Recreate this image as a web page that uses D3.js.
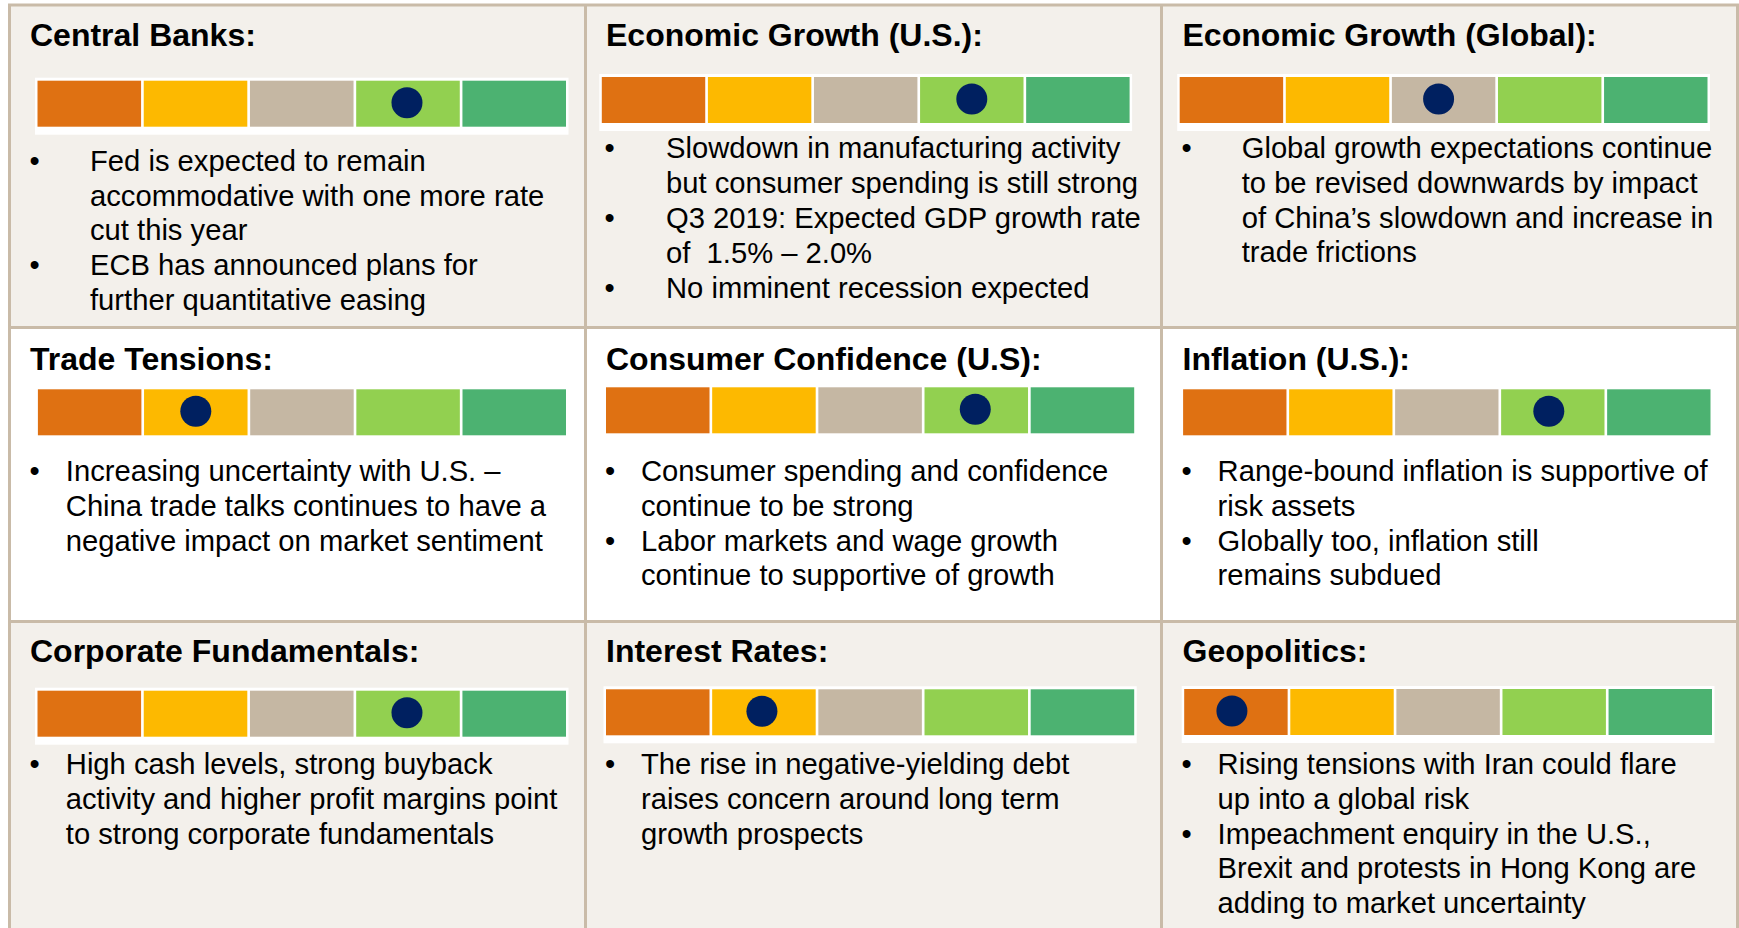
<!DOCTYPE html>
<html>
<head>
<meta charset="utf-8">
<script src="https://cdn.jsdelivr.net/npm/d3@7"></script>
<style>
  body { margin: 0; background: #ffffff; }
  svg { display: block; }
  text { font-family: "Liberation Sans", Arial, sans-serif; fill: #000; white-space: pre; }
  .title { font-size: 32px; font-weight: bold; }
  .body { font-size: 29.2px; }
</style>
</head>
<body>
<div class="container"></div>
<script>
var width = 1739;
var height = 928;

// ---- data ----
var titles = [
    "Central Banks:", "Economic Growth (U.S.):", "Economic Growth (Global):",
    "Trade Tensions:", "Consumer Confidence (U.S):", "Inflation (U.S.):",
    "Corporate Fundamentals:", "Interest Rates:", "Geopolitics:"
];

// position of the dot on the 5 step scale (1 = most negative, 5 = most positive)
var scores = [4, 4, 3, 2, 4, 4, 4, 2, 1];

var levels = [1, 2, 3, 4, 5];
var levelColors = ["#df7112", "#fdb900", "#c5b7a3", "#92d050", "#4cb271"];

var bullets = [
    [["Fed is expected to remain", "accommodative with one more rate", "cut this year"],
     ["ECB has announced plans for", "further quantitative easing"]],
    [["Slowdown in manufacturing activity", "but consumer spending is still strong"],
     ["Q3 2019: Expected GDP growth rate", "of  1.5% \u2013 2.0%"],
     ["No imminent recession expected"]],
    [["Global growth expectations continue", "to be revised downwards by impact",
      "of China\u2019s slowdown and increase in", "trade frictions"]],
    [["Increasing uncertainty with U.S. \u2013", "China trade talks continues to have a",
      "negative impact on market sentiment"]],
    [["Consumer spending and confidence", "continue to be strong"],
     ["Labor markets and wage growth", "continue to supportive of growth"]],
    [["Range-bound inflation is supportive of", "risk assets"],
     ["Globally too, inflation still", "remains subdued"]],
    [["High cash levels, strong buyback", "activity and higher profit margins point",
      "to strong corporate fundamentals"]],
    [["The rise in negative-yielding debt", "raises concern around long term",
      "growth prospects"]],
    [["Rising tensions with Iran could flare", "up into a global risk"],
     ["Impeachment enquiry in the U.S.,", "Brexit and protests in Hong Kong are",
      "adding to market uncertainty"]]
];

// ---- layout ----
var colEdges = [9.5, 585.5, 1161.5, 1737.5];
var rowEdges = [5, 327.5, 621.5, 960];
var rowFill = ["#f3f0eb", "#ffffff", "#f3f0eb"];
var borderColor = "#c9bba8";
var titleX = [30, 606, 1182.5];
var titleY = [46, 369.5, 661.5];
var segH = 46;
var lineStep = 34.8;
var dotR = 15.5;

var cellLayout = [
    {bx0: 37.5,   bx1: 566,    barTop: 80.7,  dotDx: -1, bulletX: 34.5,   textX: 90,     textY: 170.7},
    {bx0: 601.8,  bx1: 1129.6, barTop: 77,    dotDx: 0,  bulletX: 609.5,  textX: 666,    textY: 158.3},
    {bx0: 1179.7, bx1: 1707.5, barTop: 77,    dotDx: -5, bulletX: 1186.5, textX: 1241.7, textY: 158},
    {bx0: 37.9,   bx1: 566,    barTop: 389.3, dotDx: 0,  bulletX: 34.5,   textX: 65.8,   textY: 481},
    {bx0: 606,    bx1: 1134.2, barTop: 387.3, dotDx: -1, bulletX: 610,    textX: 641,    textY: 481},
    {bx0: 1183.1, bx1: 1710.5, barTop: 389.3, dotDx: -4, bulletX: 1186.5, textX: 1217.6, textY: 481},
    {bx0: 37.5,   bx1: 566,    barTop: 690.7, dotDx: -1, bulletX: 34.5,   textX: 65.8,   textY: 774},
    {bx0: 606,    bx1: 1134.2, barTop: 689.3, dotDx: -2, bulletX: 610,    textX: 641,    textY: 774},
    {bx0: 1184.2, bx1: 1712,   barTop: 689,   dotDx: -4, bulletX: 1186.5, textX: 1217.6, textY: 774}
];

var color = d3.scaleOrdinal().domain(levels).range(levelColors);

function init() {
    var svg = d3.select(".container").append("svg")
        .attr("width", width)
        .attr("height", height);

    // row backgrounds
    svg.selectAll("rect.rowbg")
        .data(rowFill)
        .enter()
        .append("rect")
        .classed("rowbg", true)
        .attr("x", colEdges[0])
        .attr("y", function(d, i){ return rowEdges[i]; })
        .attr("width", colEdges[3] - colEdges[0])
        .attr("height", function(d, i){ return rowEdges[i + 1] - rowEdges[i]; })
        .attr("fill", function(d){ return d; });

    var cells = svg.selectAll("g.cell")
        .data(titles.map(function(t, i){
            return {title: t, score: scores[i], items: bullets[i], lay: cellLayout[i],
                    col: i % 3, row: Math.floor(i / 3)};
        }))
        .enter()
        .append("g")
        .classed("cell", true);

    cells.each(function(d) {
        var g = d3.select(this);
        var L = d.lay;
        var x = d3.scaleBand().domain(levels).range([L.bx0, L.bx1]).paddingInner(0.025);

        g.append("text")
            .classed("title", true)
            .attr("x", titleX[d.col])
            .attr("y", titleY[d.row])
            .text(d.title);

        // white frame behind the scale
        g.append("rect")
            .attr("x", L.bx0 - 2.5)
            .attr("y", L.barTop - 3)
            .attr("width", L.bx1 - L.bx0 + 5)
            .attr("height", segH + 11)
            .attr("fill", "#ffffff");

        g.selectAll("rect.seg")
            .data(levels)
            .enter()
            .append("rect")
            .classed("seg", true)
            .attr("x", function(v){ return x(v); })
            .attr("y", L.barTop)
            .attr("width", x.bandwidth())
            .attr("height", segH)
            .attr("fill", function(v){ return color(v); });

        g.append("circle")
            .attr("cx", x(d.score) + x.bandwidth() / 2 + L.dotDx)
            .attr("cy", L.barTop + segH / 2 - 1)
            .attr("r", dotR)
            .attr("fill", "#002060");

        // bullets
        var lineIdx = 0;
        d.items.forEach(function(item) {
            g.append("text")
                .classed("body", true)
                .attr("x", L.bulletX)
                .attr("y", L.textY + lineIdx * lineStep)
                .attr("text-anchor", "middle")
                .text("\u2022");
            item.forEach(function(line) {
                g.append("text")
                    .classed("body", true)
                    .attr("x", L.textX)
                    .attr("y", L.textY + lineIdx * lineStep)
                    .text(line);
                lineIdx++;
            });
        });
    });

    // grid lines
    svg.selectAll("line.vgrid")
        .data(colEdges)
        .enter()
        .append("line")
        .classed("vgrid", true)
        .attr("x1", function(d){ return d; })
        .attr("x2", function(d){ return d; })
        .attr("y1", rowEdges[0])
        .attr("y2", height)
        .attr("stroke", borderColor)
        .attr("stroke-width", 3);

    svg.selectAll("line.hgrid")
        .data(rowEdges.slice(0, 3))
        .enter()
        .append("line")
        .classed("hgrid", true)
        .attr("x1", colEdges[0] - 1.5)
        .attr("x2", colEdges[3] + 1.5)
        .attr("y1", function(d){ return d; })
        .attr("y2", function(d){ return d; })
        .attr("stroke", borderColor)
        .attr("stroke-width", 3);
}

init();
</script>
</body>
</html>
